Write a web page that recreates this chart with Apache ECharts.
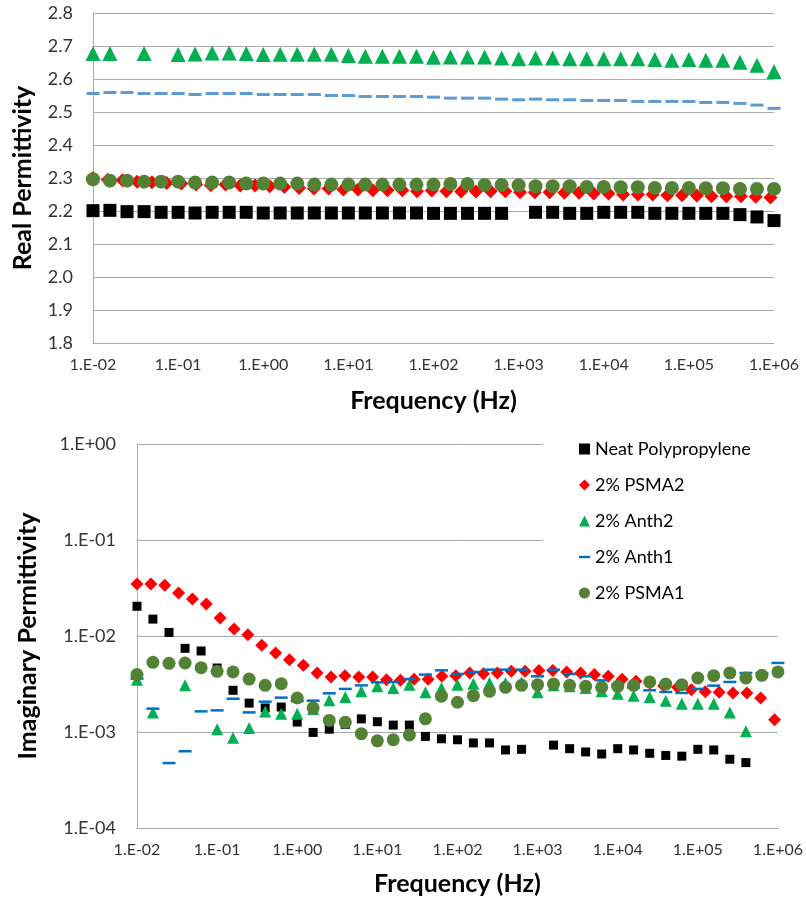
<!DOCTYPE html>
<html>
<head>
<meta charset="utf-8">
<script src="https://cdn.jsdelivr.net/npm/echarts/dist/echarts.min.js"></script>
<style>
html,body{margin:0;padding:0;background:#fff;}
#chart{width:806px;height:905px;}
</style>
</head>
<body>
<div id="chart"></div>
<script>
// ---- Data ----
const seriesNames = ['Neat Polypropylene', '2% PSMA2', '2% Anth2', '2% Anth1', '2% PSMA1'];

// measurement frequencies (Hz), 5 points per decade
const freq = [0.01, 0.0158, 0.0251, 0.0398, 0.0631, 0.1, 0.158, 0.251, 0.398, 0.631,
  1, 1.58, 2.51, 3.98, 6.31, 10, 15.8, 25.1, 39.8, 63.1,
  100, 158, 251, 398, 631, 1000, 1580, 2510, 3980, 6310,
  10000, 15800, 25100, 39800, 63100, 100000, 158000, 251000, 398000, 631000, 1000000];

// frequencies of the 2% PSMA2 sample
const freqPSMA2 = [0.01, 0.0149, 0.0222, 0.0330, 0.0492, 0.0733, 0.109, 0.163, 0.242, 0.361,
  0.537, 0.800, 1.19, 1.77, 2.64, 3.94, 5.86, 8.73, 13.0, 19.4,
  28.8, 43.0, 64.0, 95.3, 142, 211, 315, 469, 698, 1040,
  1550, 2310, 3440, 5120, 7620, 11350, 16900, 25180, 37500, 55850,
  83180, 123900, 184500, 274800, 409300, 609500, 907800];

// Real permittivity
const realNeat = [2.201, 2.202, 2.198, 2.198, 2.196, 2.196, 2.194, 2.196, 2.196, 2.196,
  2.194, 2.194, 2.194, 2.194, 2.194, 2.194, 2.194, 2.194, 2.194, 2.194,
  2.193, 2.193, 2.193, 2.193, 2.193, null, 2.196, 2.196, 2.193, 2.193,
  2.196, 2.196, 2.196, 2.193, 2.193, 2.193, 2.193, 2.193, 2.189, 2.182, 2.171];
const realPSMA2 = [2.300, 2.295, 2.293, 2.289, 2.287, 2.285, 2.283, 2.280, 2.278, 2.280,
  2.277, 2.277, 2.275, 2.273, 2.270, 2.268, 2.268, 2.265, 2.265, 2.263,
  2.263, 2.263, 2.260, 2.262, 2.260, 2.259, 2.259, 2.260, 2.260, 2.257,
  2.257, 2.257, 2.255, 2.255, 2.253, 2.253, 2.250, 2.250, 2.250, 2.248,
  2.248, 2.247, 2.245, 2.245, 2.245, 2.243, 2.241];
const realAnth2 = [2.677, 2.677, null, 2.677, null, 2.674, 2.676, 2.679, 2.679, 2.677,
  2.674, 2.675, 2.675, 2.675, 2.675, 2.671, 2.669, 2.669, 2.669, 2.669,
  2.666, 2.667, 2.667, 2.667, 2.664, 2.661, 2.664, 2.664, 2.661, 2.661,
  2.661, 2.661, 2.661, 2.659, 2.657, 2.659, 2.657, 2.657, 2.651, 2.642, 2.623];
const realAnth1 = [2.556, 2.559, 2.559, 2.556, 2.556, 2.556, 2.553, 2.556, 2.556, 2.556,
  2.553, 2.553, 2.553, 2.553, 2.550, 2.550, 2.547, 2.547, 2.547, 2.547,
  2.545, 2.542, 2.542, 2.542, 2.539, 2.537, 2.539, 2.537, 2.537, 2.535,
  2.535, 2.535, 2.532, 2.532, 2.532, 2.532, 2.529, 2.529, 2.526, 2.521, 2.511];
const realPSMA1 = [2.296, 2.292, 2.292, 2.289, 2.289, 2.289, 2.286, 2.286, 2.286, 2.283,
  2.283, 2.283, 2.283, 2.280, 2.280, 2.280, 2.280, 2.280, 2.280, 2.280,
  2.280, 2.282, 2.282, 2.279, 2.279, 2.278, 2.275, 2.275, 2.275, 2.273,
  2.273, 2.272, 2.272, 2.270, 2.270, 2.270, 2.269, 2.269, 2.267, 2.267, 2.267];

// Imaginary permittivity
const imagNeat = [0.0204, 0.0150, 0.0109, 0.00744, 0.00698, 0.00464, 0.00272, 0.00200, 0.00178, 0.00182,
  0.00127, 0.00099, 0.00107, 0.00120, 0.00137, 0.00128, 0.00118, 0.00118, 0.00090, 0.00085,
  0.00083, 0.00077, 0.00077, 0.00065, 0.00066, null, 0.00073, 0.00067, 0.00062, 0.00059,
  0.00067, 0.00065, 0.00060, 0.00057, 0.00056, 0.00066, 0.00065, 0.00052, 0.00048, null, null];
const imagPSMA2 = [0.0348, 0.0348, 0.0337, 0.0280, 0.0243, 0.0216, 0.0154, 0.0118, 0.0103, 0.0080,
  0.00665, 0.00567, 0.00495, 0.00412, 0.00374, 0.00386, 0.00373, 0.00373, 0.00351, 0.00347,
  0.00355, 0.00355, 0.00380, 0.00386, 0.00412, 0.00405, 0.00412, 0.00429, 0.00429, 0.00438,
  0.00438, 0.00421, 0.00412, 0.00396, 0.00380, 0.00355, 0.00337, 0.00324, 0.00304, 0.00293,
  0.00276, 0.00262, 0.00260, 0.00255, 0.00255, 0.00226, 0.00134];
const imagAnth2 = [0.00351, 0.00160, null, 0.00306, null, 0.00107, 0.00087, 0.00110, 0.00164, 0.00155,
  0.00155, 0.00174, 0.00214, 0.00232, 0.00265, 0.00299, 0.00287, 0.00311, 0.00259, 0.00287,
  0.00311, 0.00319, 0.00324, 0.00324, 0.00329, 0.00259, 0.00306, 0.00299, 0.00287, 0.00265,
  0.00251, 0.00239, 0.00232, 0.00212, 0.00197, 0.00197, 0.00197, 0.00160, 0.00102, null, null];
const imagAnth1 = [0.0036, 0.00175, 0.000475, 0.00063, 0.00164, 0.00168, 0.00222, 0.00160, 0.00207, 0.00228,
  0.0021, 0.00212, 0.00253, 0.00281, 0.00306, 0.00329, 0.00332, 0.00356, 0.00396, 0.00439,
  0.00402, 0.00422, 0.00446, 0.00446, 0.00446, 0.00380, 0.00446, 0.00402, 0.00380, 0.00345,
  0.0031, 0.0029, 0.00272, 0.00261, 0.00255, 0.00281, 0.00304, 0.00332, 0.00412, 0.0041, 0.00524];
const imagPSMA1 = [0.00396, 0.00532, 0.00519, 0.00523, 0.00468, 0.00429, 0.00422, 0.00356, 0.00306, 0.00319,
  0.00226, 0.00178, 0.00132, 0.00126, 0.00096, 0.00081, 0.00083, 0.00093, 0.00137, 0.00236,
  0.00204, 0.00239, 0.00265, 0.00292, 0.00306, 0.00311, 0.00316, 0.00306, 0.00299, 0.00292,
  0.00299, 0.00306, 0.00332, 0.00316, 0.00311, 0.00365, 0.00386, 0.00412, 0.00365, 0.00389, 0.00422];

// ---- helpers ----
function pairs(xs, ys) {
  const out = [];
  for (let i = 0; i < xs.length; i++) if (ys[i] != null) out.push([xs[i], ys[i]]);
  return out;
}
function expLabel(v) {
  const e = Math.round(Math.log10(v));
  return '1.E' + (e < 0 ? '-' : '+') + String(Math.abs(e)).padStart(2, '0');
}

const FONT = 'Lato, "Liberation Sans", sans-serif';
const GRID_C = '#A9A9A9';
const LABEL_C = '#333333';

const styles = [
  { symbol: 'rect', color: '#000000', sTop: 13, sBot: 9 },
  { symbol: 'diamond', color: '#FF0000', sTop: 14, sBot: 13 },
  { symbol: 'triangle', color: '#00B050', sTop: 15, sBot: 12 },
  { symbol: 'rect', color: '#5B9BD5', colorBot: '#0070C0', sTop: [13, 3], sBot: [13, 2.5] },
  { symbol: 'circle', color: '#548235', sTop: 14, sBot: 13 }
];

const realData = [pairs(freq, realNeat), pairs(freqPSMA2, realPSMA2), pairs(freq, realAnth2), pairs(freq, realAnth1), pairs(freq, realPSMA1)];
const imagData = [pairs(freq, imagNeat), pairs(freqPSMA2, imagPSMA2), pairs(freq, imagAnth2), pairs(freq, imagAnth1), pairs(freq, imagPSMA1)];

const series = [];
seriesNames.forEach((n, i) => {
  series.push({
    type: 'scatter', name: n, xAxisIndex: 0, yAxisIndex: 0, clip: false,
    symbol: styles[i].symbol, symbolSize: styles[i].sTop,
    itemStyle: { color: styles[i].color, opacity: 1 },
    emphasis: { disabled: true },
    data: realData[i]
  });
});
seriesNames.forEach((n, i) => {
  series.push({
    type: 'scatter', name: n, xAxisIndex: 1, yAxisIndex: 1, clip: false,
    symbol: styles[i].symbol, symbolSize: styles[i].sBot,
    itemStyle: { color: styles[i].colorBot || styles[i].color, opacity: 1 },
    emphasis: { disabled: true },
    data: imagData[i]
  });
});

const xAxisCommon = {
  type: 'log', logBase: 10, min: 0.01, max: 1000000, splitNumber: 8,
  axisLine: { show: true, lineStyle: { color: GRID_C, width: 1 } },
  axisTick: { show: false },
  splitLine: { show: false },
  axisLabel: { formatter: expLabel, fontSize: 16, color: LABEL_C, fontFamily: FONT, margin: 14 },
  name: 'Frequency (Hz)', nameLocation: 'middle',
  nameTextStyle: { fontSize: 25, fontWeight: 'bold', color: '#000', fontFamily: FONT }
};

const option = {
  backgroundColor: '#ffffff',
  animation: false,
  textStyle: { fontFamily: FONT },
  grid: [
    { left: 93, right: 32, top: 13, height: 330 },
    { left: 137, right: 28, top: 444, height: 384 }
  ],
  xAxis: [
    Object.assign({}, xAxisCommon, { gridIndex: 0, nameGap: 45 }),
    Object.assign({}, xAxisCommon, { gridIndex: 1, nameGap: 43 })
  ],
  yAxis: [
    {
      type: 'value', gridIndex: 0, min: 1.8, max: 2.8, interval: 0.1,
      axisLine: { show: true, lineStyle: { color: GRID_C, width: 1 } },
      axisTick: { show: false },
      splitLine: { show: true, lineStyle: { color: GRID_C, width: 1 } },
      axisLabel: { formatter: v => v.toFixed(1), fontSize: 18, color: LABEL_C, fontFamily: FONT, margin: 20 },
      name: 'Real Permittivity', nameLocation: 'middle', nameGap: 58,
      nameTextStyle: { fontSize: 25, fontWeight: 'bold', color: '#000', fontFamily: FONT }
    },
    {
      type: 'log', logBase: 10, gridIndex: 1, min: 0.0001, max: 1, splitNumber: 4,
      axisLine: { show: true, lineStyle: { color: GRID_C, width: 1 } },
      axisTick: { show: false },
      splitLine: { show: true, lineStyle: { color: GRID_C, width: 1 } },
      axisLabel: { formatter: expLabel, fontSize: 18, color: LABEL_C, fontFamily: FONT, margin: 21 },
      name: 'Imaginary Permittivity', nameLocation: 'middle', nameGap: 97,
      nameTextStyle: { fontSize: 25, fontWeight: 'bold', color: '#000', fontFamily: FONT }
    }
  ],
  legend: {
    orient: 'vertical', left: 543, top: 429,
    padding: [10, 45, 22, 36],
    backgroundColor: '#ffffff',
    itemWidth: 11, itemHeight: 11, itemGap: 16,
    textStyle: { fontSize: 18, color: '#000', fontFamily: FONT, lineHeight: 20 },
    data: [
      { name: seriesNames[0], icon: 'rect', itemStyle: { color: '#000000' } },
      { name: seriesNames[1], icon: 'diamond', itemStyle: { color: '#FF0000' } },
      { name: seriesNames[2], icon: 'triangle', itemStyle: { color: '#00B050' } },
      { name: seriesNames[3], icon: 'path://M0,0h12v2.6h-12z', itemStyle: { color: '#0070C0' } },
      { name: seriesNames[4], icon: 'circle', itemStyle: { color: '#548235' } }
    ]
  },
  series: series
};

const chart = echarts.init(document.getElementById('chart'), null, { renderer: 'canvas' });
chart.setOption(option);
</script>
</body>
</html>
